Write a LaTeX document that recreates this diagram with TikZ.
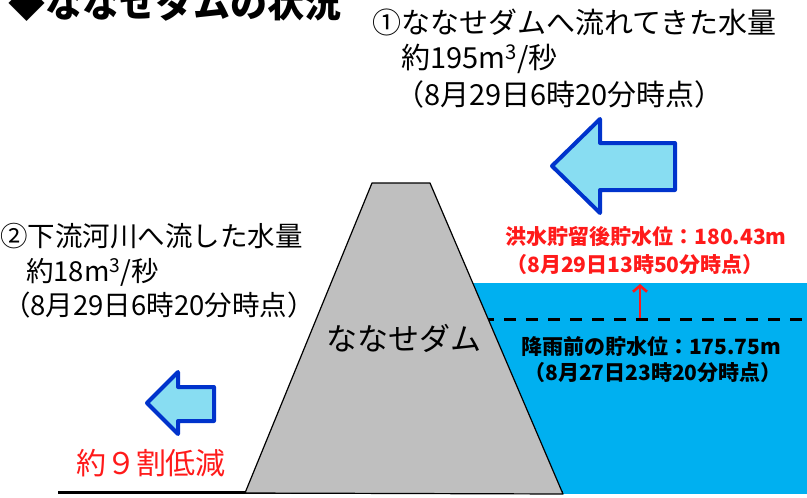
\documentclass[tikz,border=0pt]{standalone}
\usepackage{fontspec}
\setmainfont{Noto Sans CJK JP}
\usetikzlibrary{arrows.meta}
\definecolor{damgray}{HTML}{BFBFBF}
\definecolor{lakeblue}{HTML}{00B0F0}
\definecolor{flowfill}{HTML}{88DDF2}
\definecolor{flowline}{HTML}{0033CC}
\definecolor{notered}{HTML}{FF1A1A}

\begin{document}
\begin{tikzpicture}[x=1pt,y=-1pt,
    flowarrow/.style={draw=flowline,fill=flowfill,line width=4pt,line join=round},
    lineleft/.style={inner sep=0pt,anchor=base west},
    levelnote/.style={inner sep=0pt,anchor=center,font=\fontsize{21}{25}\selectfont\bfseries}]
\useasboundingbox (0,0) rectangle (807,498);
\fill[lakeblue] (450,283) rectangle (807,494); % reservoir
\draw[line width=3pt,dash pattern=on 12pt off 10pt] (482,319) -- (807,319); % level before rain
\draw[line width=3pt] (58,492) -- (563,492); % ground
\draw[fill=damgray,line width=1.2pt,line join=round] (245,493) -- (372,183) -- (430,183) -- (563,494) -- cycle; % dam
\node[anchor=center,inner sep=0pt,font=\fontsize{31}{36}\selectfont] (damname) at (403.5,338) {ななせダム};
% title
\node[lineleft,font=\fontsize{37}{40}\selectfont\bfseries] (title) at (8,17) {◆ななせダムの状況};
% inflow
\node[lineleft,font=\fontsize{29}{34}\selectfont] (inflowA) at (372,33.5) {①ななせダムへ流れてきた水量};
\node[lineleft,font=\fontsize{29}{34}\selectfont] (inflowB) at (401,68.5) {約195m\textsuperscript{3}/秒};
\node[lineleft,font=\fontsize{29}{34}\selectfont] (inflowC) at (395,105) {（8月29日6時20分時点）};
% outflow
\node[lineleft,font=\fontsize{27.5}{32}\selectfont] (outflowA) at (0,246.5) {②下流河川へ流した水量};
\node[lineleft,font=\fontsize{27.5}{32}\selectfont] (outflowB) at (26,281.5) {約18m\textsuperscript{3}/秒};
\node[lineleft,font=\fontsize{27.5}{32}\selectfont] (outflowC) at (3,315.5) {（8月29日6時20分時点）};
\node[anchor=center,inner sep=0pt,text=notered,font=\fontsize{30}{34}\selectfont] (cut) at (151,463) {約９割低減};
% water levels
\node[levelnote,text=notered] (highA) at (646,237) {洪水貯留後貯水位：180.43m};
\node[levelnote,text=notered] (highB) at (635,265) {（8月29日13時50分時点）};
\node[levelnote] (lowA) at (651,347) {降雨前の貯水位：175.75m};
\node[levelnote] (lowB) at (653,373) {（8月27日23時20分時点）};
\coordinate (oldlevel) at (640,318);
\coordinate (newlevel) at (640,284);
\draw[notered,line width=2.6pt,-{Straight Barb[length=6pt,width=14pt]}] (oldlevel) -- (newlevel);
% arrows
\draw[flowarrow] (552,166) -- (600,119) -- (600,143) -- (675,143) -- (675,190) -- (600,190) -- (600,213) -- cycle; % inflow arrow
\draw[flowarrow] (147,403) -- (178,372) -- (178,387) -- (214,387) -- (214,421) -- (178,421) -- (178,434) -- cycle; % outflow arrow
\end{tikzpicture}
\end{document}
